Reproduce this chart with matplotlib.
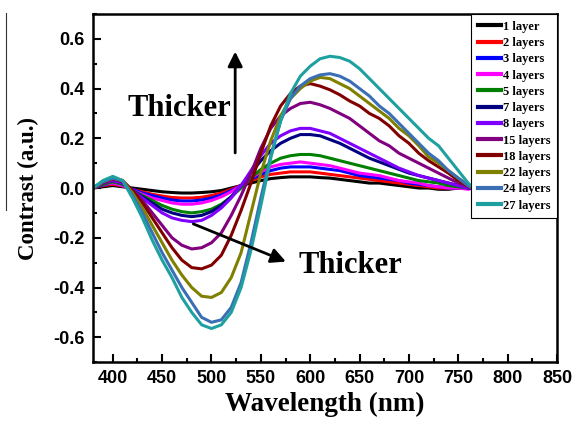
import matplotlib
matplotlib.use("Agg")
import matplotlib.pyplot as plt
from matplotlib.ticker import MultipleLocator
from matplotlib.lines import Line2D

plt.rcParams['axes.unicode_minus'] = False

wavelength = [380, 390, 400, 410, 420, 430, 440, 450, 460, 470,
              480, 490, 500, 510, 520, 530, 540, 550, 560, 570,
              580, 590, 600, 610, 620, 630, 640, 650, 660, 670,
              680, 690, 700, 710, 720, 730, 740, 750, 760, 765]

labels = ["1 layer", "2 layers", "3 layers", "4 layers", "5 layers", "7 layers",
          "8 layers", "15 layers", "18 layers", "22 layers", "24 layers", "27 layers"]
colors = ["#000000", "#ff0000", "#0000ff", "#ff00ff", "#008000", "#000080",
          "#8000ff", "#800080", "#800000", "#808000", "#3a6fb5", "#1fa0a0"]

l1 = [0.0, 0.005, 0.01, 0.005, 0.0, -0.005, -0.01, -0.015, -0.018, -0.02,
      -0.02, -0.018, -0.015, -0.01, 0.0, 0.01, 0.02, 0.03, 0.038, 0.042,
      0.045, 0.045, 0.045, 0.042, 0.04, 0.035, 0.03, 0.025, 0.02, 0.02,
      0.015, 0.01, 0.005, 0.0, 0.0, -0.005, -0.005, 0.0, 0.0, 0.0]
l2 = [0.0, 0.01, 0.015, 0.008, -0.005, -0.015, -0.025, -0.032, -0.038, -0.04,
      -0.04, -0.037, -0.03, -0.02, -0.005, 0.01, 0.03, 0.045, 0.055, 0.06,
      0.065, 0.065, 0.065, 0.06, 0.055, 0.05, 0.045, 0.04, 0.035, 0.03,
      0.025, 0.02, 0.015, 0.01, 0.005, 0.0, 0.0, 0.0, 0.0, 0.0]
l3 = [0.0, 0.012, 0.02, 0.01, -0.005, -0.02, -0.03, -0.04, -0.048, -0.052,
      -0.052, -0.048, -0.04, -0.028, -0.01, 0.01, 0.035, 0.055, 0.07, 0.08,
      0.085, 0.085, 0.085, 0.08, 0.075, 0.07, 0.06, 0.05, 0.045, 0.04,
      0.035, 0.03, 0.02, 0.015, 0.01, 0.005, 0.0, 0.0, 0.0, 0.0]
l4 = [0.0, 0.015, 0.02, 0.01, -0.01, -0.025, -0.04, -0.05, -0.06, -0.065,
      -0.065, -0.06, -0.05, -0.035, -0.015, 0.01, 0.04, 0.065, 0.085, 0.095,
      0.10, 0.105, 0.10, 0.095, 0.09, 0.08, 0.07, 0.06, 0.055, 0.05,
      0.04, 0.03, 0.025, 0.02, 0.01, 0.005, 0.0, 0.0, -0.005, 0.0]
l5 = [0.0, 0.015, 0.025, 0.015, -0.01, -0.03, -0.05, -0.07, -0.085, -0.095,
      -0.10, -0.095, -0.085, -0.065, -0.035, 0.0, 0.04, 0.075, 0.10, 0.12,
      0.13, 0.135, 0.135, 0.13, 0.12, 0.11, 0.10, 0.09, 0.08, 0.07,
      0.06, 0.05, 0.04, 0.03, 0.025, 0.02, 0.01, 0.005, 0.0, 0.0]
l7 = [0.0, 0.02, 0.03, 0.02, -0.01, -0.035, -0.06, -0.085, -0.10, -0.11,
      -0.115, -0.11, -0.095, -0.07, -0.035, 0.01, 0.06, 0.11, 0.15, 0.18,
      0.20, 0.215, 0.215, 0.21, 0.195, 0.18, 0.16, 0.14, 0.12, 0.105,
      0.09, 0.075, 0.06, 0.05, 0.04, 0.03, 0.02, 0.01, 0.0, 0.0]
l8 = [0.0, 0.02, 0.03, 0.02, -0.01, -0.04, -0.07, -0.10, -0.12, -0.13,
      -0.135, -0.13, -0.11, -0.08, -0.04, 0.01, 0.07, 0.13, 0.18, 0.21,
      0.23, 0.24, 0.24, 0.23, 0.22, 0.20, 0.18, 0.16, 0.14, 0.12,
      0.10, 0.08, 0.065, 0.05, 0.04, 0.03, 0.02, 0.01, 0.0, 0.0]
l15 = [0.0, 0.02, 0.035, 0.025, -0.01, -0.05, -0.10, -0.15, -0.20, -0.23,
       -0.245, -0.24, -0.22, -0.18, -0.11, -0.03, 0.06, 0.16, 0.24, 0.29,
       0.32, 0.34, 0.345, 0.335, 0.32, 0.30, 0.28, 0.25, 0.22, 0.19,
       0.17, 0.14, 0.12, 0.10, 0.08, 0.06, 0.04, 0.02, 0.005, 0.0]
l18 = [0.0, 0.025, 0.04, 0.03, -0.01, -0.06, -0.12, -0.18, -0.24, -0.29,
       -0.32, -0.325, -0.31, -0.27, -0.19, -0.09, 0.02, 0.14, 0.25, 0.33,
       0.38, 0.41, 0.42, 0.41, 0.395, 0.375, 0.35, 0.33, 0.30, 0.28,
       0.25, 0.21, 0.18, 0.14, 0.11, 0.085, 0.06, 0.03, 0.01, 0.0]
l22 = [0.0, 0.025, 0.04, 0.03, -0.02, -0.08, -0.15, -0.22, -0.29, -0.35,
       -0.40, -0.435, -0.44, -0.42, -0.36, -0.26, -0.10, 0.06, 0.19, 0.29,
       0.36, 0.40, 0.43, 0.445, 0.44, 0.42, 0.40, 0.37, 0.34, 0.31,
       0.28, 0.24, 0.21, 0.17, 0.125, 0.10, 0.07, 0.04, 0.01, 0.0]
l24 = [0.0, 0.025, 0.04, 0.03, -0.03, -0.10, -0.18, -0.26, -0.33, -0.40,
       -0.46, -0.52, -0.54, -0.53, -0.48, -0.38, -0.22, -0.04, 0.13, 0.27,
       0.36, 0.41, 0.44, 0.455, 0.46, 0.45, 0.43, 0.40, 0.37, 0.33,
       0.30, 0.26, 0.22, 0.18, 0.14, 0.11, 0.07, 0.04, 0.01, 0.0]
l27 = [0.0, 0.03, 0.047, 0.03, -0.04, -0.12, -0.21, -0.29, -0.36, -0.44,
       -0.50, -0.55, -0.565, -0.55, -0.50, -0.40, -0.25, -0.07, 0.12, 0.27,
       0.38, 0.45, 0.49, 0.52, 0.53, 0.525, 0.51, 0.48, 0.44, 0.40,
       0.36, 0.32, 0.28, 0.24, 0.20, 0.17, 0.12, 0.07, 0.02, 0.0]

series = [l1, l2, l3, l4, l5, l7, l8, l15, l18, l22, l24, l27]

serif = "Liberation Serif"
sans = "Liberation Sans"

fig = plt.figure(figsize=(5.76, 4.24), dpi=100)
ax = fig.add_axes([0.1615, 0.146, 0.8055, 0.821])

for y, lab, c in zip(series, labels, colors):
    ax.plot(wavelength, y, color=c, lw=2.2, label=lab)

ax.set_xlim(380, 850)
ax.set_ylim(-0.7, 0.7)
ax.xaxis.set_minor_locator(MultipleLocator(25))
ax.yaxis.set_minor_locator(MultipleLocator(0.1))
ax.set_xticks([400, 450, 500, 550, 600, 650, 700, 750, 800, 850])
ax.set_yticks([-0.6, -0.4, -0.2, 0.0, 0.2, 0.4, 0.6])
ax.set_yticklabels(["-0.6", "-0.4", "-0.2", "0.0", "0.2", "0.4", "0.6"])
ax.tick_params(which='both', direction='in', width=1.5, top=False, right=False)
ax.tick_params(which='major', length=6, labelsize=13, pad=6)
ax.tick_params(which='minor', length=3)
for lbl in ax.get_xticklabels() + ax.get_yticklabels():
    lbl.set_fontfamily(sans)
    lbl.set_fontweight('bold')
for s in ax.spines.values():
    s.set_linewidth(1.8)

ax.set_xlabel("Wavelength (nm)", fontsize=19.5, fontweight='bold', family=serif, labelpad=3)
ax.set_ylabel("Contrast (a.u.)", fontsize=16.5, fontweight='bold', family=serif, labelpad=10)

leg = ax.legend(loc='upper right', borderaxespad=0, fancybox=False, framealpha=1,
                edgecolor='black', handlelength=1.9, handletextpad=0.1,
                labelspacing=0.34, borderpad=0.55,
                prop={'family': serif, 'weight': 'bold', 'size': 9})
leg.get_frame().set_linewidth(0.8)
for h in leg.get_lines():
    h.set_linewidth(3)

ax.text(467, 0.32, "Thicker", fontsize=22, fontweight='bold', family=serif,
        ha='center', va='center')
ax.annotate("", xy=(524, 0.56), xytext=(524, 0.13),
            arrowprops=dict(arrowstyle='-|>', lw=2, mutation_scale=22, color='black'))
ax.text(641, -0.31, "Thicker", fontsize=22, fontweight='bold', family=serif,
        ha='center', va='center')
ax.annotate("", xy=(578, -0.30), xytext=(479, -0.14),
            arrowprops=dict(arrowstyle='-|>', lw=2, mutation_scale=22, color='black'))

# thin stray line left of the y label, as in the original figure
fig.add_artist(Line2D([0.0104, 0.0104], [0.969, 0.505], transform=fig.transFigure,
                      color='#333333', lw=0.8))

fig.savefig("out.png", dpi=100)
